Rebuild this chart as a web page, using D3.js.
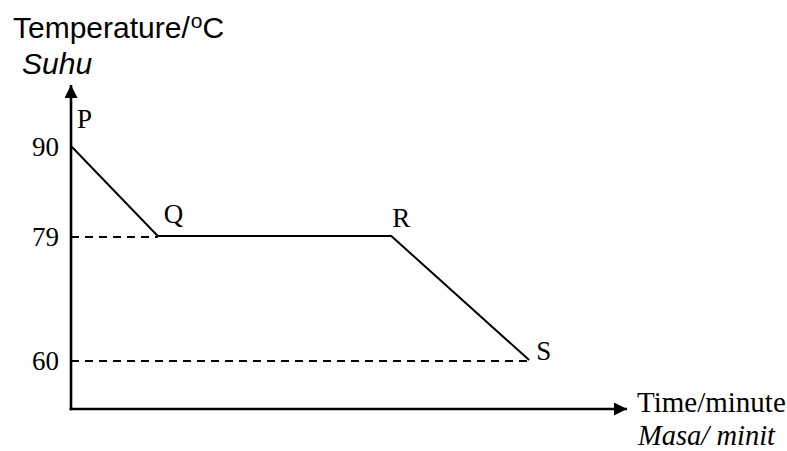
<!DOCTYPE html>
<html>
<head>
<meta charset="utf-8">
<script src="https://cdn.jsdelivr.net/npm/d3@7"></script>
<style>
  body { margin: 0; background: #fff; }
  svg { display: block; }
</style>
</head>
<body>
<svg width="787" height="451"></svg>
<script>
// points of the cooling curve
const pointNames = ["P", "Q", "R", "S"];
const times = [0, 3.9, 14.4, 20.6];       // schematic, no scale on the time axis
const temps = [90, 79, 79, 60];
const tickValues = [60, 79, 90];

const width = 787;
const height = 451;
const svg = d3.select("svg");

const x0 = 71, y0 = 409;

const x = d3.scaleLinear().domain([0, 25]).range([x0, 627]);
// the sketch is not drawn to scale, so the temperature axis is piecewise
const y = d3.scaleLinear().domain([50, 60, 79, 90, 98]).range([y0, 360, 236, 146, 85]);

const data = pointNames.map((n, i) => ({ name: n, t: times[i], temp: temps[i] }));

const defs = svg.append("defs");
defs.append("marker")
  .attr("id", "arrow")
  .attr("viewBox", "0 0 10 10")
  .attr("refX", 10).attr("refY", 5)
  .attr("markerWidth", 5.4).attr("markerHeight", 5)
  .attr("markerUnits", "strokeWidth")
  .attr("orient", "auto")
  .append("path")
  .attr("d", "M0,0 L10,5 L0,10 Z")
  .attr("fill", "#000");

// dashed guides to the y axis
const guides = data.filter(d => d.name === "Q" || d.name === "S");
svg.append("g")
  .selectAll("line")
  .data(guides)
  .enter()
  .append("line")
  .attr("x1", x(0))
  .attr("x2", d => x(d.t))
  .attr("y1", d => y(d.temp) + 1)
  .attr("y2", d => y(d.temp) + 1)
  .attr("stroke", "#000")
  .attr("stroke-width", 2)
  .attr("stroke-dasharray", "8,6");

// axes
svg.append("line")
  .attr("x1", x0).attr("y1", y0 + 1.3)
  .attr("x2", x0).attr("y2", y(98))
  .attr("stroke", "#000").attr("stroke-width", 2.6)
  .attr("marker-end", "url(#arrow)");
svg.append("line")
  .attr("x1", x0 - 1.3).attr("y1", y0)
  .attr("x2", x(25)).attr("y2", y0)
  .attr("stroke", "#000").attr("stroke-width", 2.6)
  .attr("marker-end", "url(#arrow)");

const yAxis = svg.append("g")
  .attr("transform", `translate(${x0},0)`)
  .call(d3.axisLeft(y).tickValues(tickValues).tickSize(0).tickPadding(12).tickFormat(d3.format("d")));
yAxis.select(".domain").remove();
yAxis.selectAll("text")
  .style("font-family", "'Liberation Serif', 'Times New Roman', serif")
  .style("font-size", "27px")
  .attr("dy", "0.34em");

// the curve
const line = d3.line().x(d => x(d.t)).y(d => y(d.temp));
svg.append("path")
  .datum(data)
  .attr("d", line)
  .attr("fill", "none")
  .attr("stroke", "#000")
  .attr("stroke-width", 2);

// point labels
const offsets = { P: [6, -18], Q: [6, -13], R: [1, -9], S: [7, 0] };
svg.append("g")
  .selectAll("text")
  .data(data)
  .enter()
  .append("text")
  .attr("x", d => x(d.t) + offsets[d.name][0])
  .attr("y", d => y(d.temp) + offsets[d.name][1])
  .text(d => d.name)
  .style("font-family", "'Liberation Serif', 'Times New Roman', serif")
  .style("font-size", "27px");

// axis titles
const yTitle = svg.append("text")
  .attr("x", 13).attr("y", 38)
  .style("font-family", "'Liberation Sans', Arial, sans-serif")
  .style("font-size", "30px");
yTitle.append("tspan").text("Temperature/");
yTitle.append("tspan").attr("dy", -10).attr("dx", 1).style("font-size", "21px").text("o");
yTitle.append("tspan").attr("dy", 10).text("C");

svg.append("text")
  .attr("x", 22).attr("y", 74)
  .style("font-family", "'Liberation Sans', Arial, sans-serif")
  .style("font-size", "30px")
  .style("font-style", "italic")
  .text("Suhu");

svg.append("text")
  .attr("x", 637).attr("y", 412)
  .style("font-family", "'Liberation Serif', 'Times New Roman', serif")
  .style("font-size", "29px")
  .text("Time/minute");

svg.append("text")
  .attr("x", 638).attr("y", 445)
  .style("font-family", "'Liberation Serif', 'Times New Roman', serif")
  .style("font-size", "28.5px")
  .style("font-style", "italic")
  .text("Masa/ minit");
</script>
</body>
</html>
